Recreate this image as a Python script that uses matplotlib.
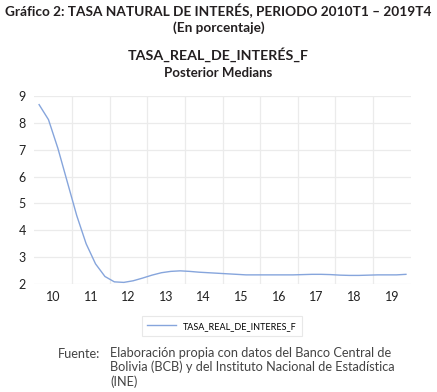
import numpy as np
import matplotlib.pyplot as plt
from matplotlib.ticker import FixedLocator, FixedFormatter

# posterior medians, quarterly 2010T1 - 2019T4
tasa = [8.68, 8.12, 7.05, 5.80, 4.55, 3.50, 2.75, 2.28,
        2.08, 2.06, 2.12, 2.22, 2.33, 2.42, 2.47, 2.49,
        2.47, 2.44, 2.42, 2.40, 2.38, 2.36, 2.34, 2.34,
        2.34, 2.34, 2.34, 2.34, 2.35, 2.36, 2.36, 2.35,
        2.33, 2.32, 2.32, 2.33, 2.34, 2.34, 2.34, 2.36]
start_year = 2010
year_labels = ['10', '11', '12', '13', '14', '15', '16', '17', '18', '19']
y_ticks = [2, 3, 4, 5, 6, 7, 8, 9]

plt.rcParams['font.family'] = ['Lato', 'DejaVu Sans']

fig = plt.figure(figsize=(4.37, 3.92), dpi=100)
ax = fig.add_axes([0.0787, 0.2755, 0.861, 0.4795])

x = start_year + (np.arange(len(tasa)) + 0.5) / 4
ax.plot(x, tasa, color='#86a5dc', lw=1.0, label='TASA_REAL_DE_INTERES_F')

ax.set_xlim(start_year, start_year + len(year_labels))
ax.set_ylim(2, 9)
ax.xaxis.set_major_locator(FixedLocator(range(start_year + 1, start_year + len(year_labels))))
ax.xaxis.set_major_formatter(FixedFormatter([]))
ax.xaxis.set_minor_locator(FixedLocator([start_year + i + 0.5 for i in range(len(year_labels))]))
ax.xaxis.set_minor_formatter(FixedFormatter(year_labels))
ax.set_yticks(y_ticks)
ax.tick_params(which='both', length=0, labelsize=9, colors='#222222')
ax.tick_params(axis='x', which='minor', pad=5)
ax.tick_params(axis='y', pad=6)
ax.grid(True, which='major', color='#ebebeb', lw=0.9)
for s in ax.spines.values():
    s.set_visible(False)

fig.text(0.5, 0.972, 'Gráfico 2: TASA NATURAL DE INTERÉS, PERIODO 2010T1 – 2019T4',
         ha='center', va='center', fontsize=9.8, fontweight='bold', color='#231f20')
fig.text(0.5, 0.929, '(En porcentaje)', ha='center', va='center',
         fontsize=9.8, fontweight='bold', color='#231f20')
fig.text(0.5, 0.860, 'TASA_REAL_DE_INTERÉS_F', ha='center', va='center',
         fontsize=10.3, fontweight='bold', color='#231f20')
fig.text(0.5, 0.815, 'Posterior Medians', ha='center', va='center',
         fontsize=9.5, fontweight='bold', color='#231f20')

leg = fig.legend(loc='center', bbox_to_anchor=(0.508, 0.168), fontsize=6.5,
                 frameon=True, fancybox=False, handlelength=3.2, borderpad=0.6)
leg.get_frame().set_edgecolor('#e3e3e3')
leg.get_frame().set_linewidth(0.8)

fig.text(0.133, 0.096, 'Fuente:', ha='left', va='center', fontsize=9.2, color='#444444')
fig.text(0.252, 0.116, 'Elaboración propia con datos del Banco Central de\n'
         'Bolivia (BCB) y del Instituto Nacional de Estadística\n(INE)',
         ha='left', va='top', fontsize=9.2, color='#444444', linespacing=1.22)

fig.savefig('out.png', dpi=100)
